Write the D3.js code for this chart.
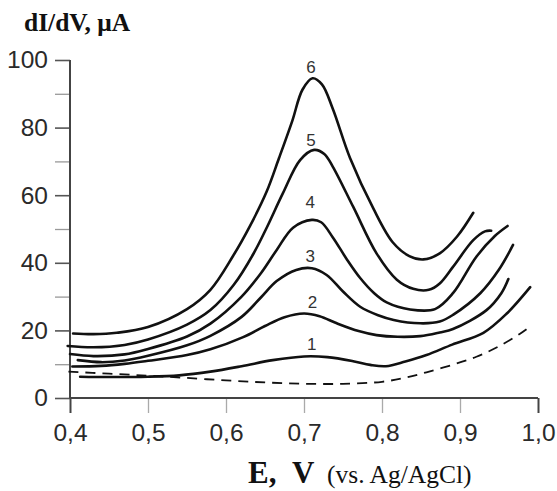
<!DOCTYPE html>
<html><head><meta charset="utf-8">
<script src="https://cdn.jsdelivr.net/npm/d3@7"></script>
<style>body{margin:0;background:#fff}svg{display:block}</style>
</head><body>
<svg id="c" width="557" height="491"></svg>
<script>
// Data: [E (V), dI/dV (µA)]
const curve1 = [[0.413,6.3],[0.45,6.2],[0.5,6.3],[0.54,6.7],[0.58,7.8],[0.62,9.4],[0.66,11.2],[0.7,12.3],[0.73,12.1],[0.763,10.9],[0.785,9.8],[0.805,9.4],[0.83,10.8],[0.857,12.7],[0.89,15.8],[0.93,19.3],[0.96,25],[0.99,32.8]];
const curve2 = [[0.403,9.3],[0.44,9.5],[0.47,10.1],[0.5,11],[0.55,12.7],[0.58,14.4],[0.622,18],[0.65,21.3],[0.675,23.9],[0.7,25],[0.72,24.2],[0.742,22.1],[0.77,19.8],[0.793,18.6],[0.82,18.1],[0.849,18.3],[0.874,19.4],[0.891,20.4],[0.934,26],[0.953,31],[0.962,35.2]];
const curve3 = [[0.41,11.2],[0.44,10.6],[0.47,11.1],[0.5,12.5],[0.55,15.6],[0.58,18.4],[0.62,24],[0.645,29.8],[0.665,34.6],[0.69,37.9],[0.71,38.4],[0.729,36.4],[0.75,31.5],[0.772,27],[0.795,24.5],[0.815,23.1],[0.849,22.1],[0.874,22.6],[0.891,24.6],[0.926,31],[0.95,38],[0.968,45.3]];
const curve4 = [[0.4,13],[0.43,12.4],[0.47,12.9],[0.5,14.5],[0.55,18.2],[0.58,22],[0.62,30],[0.645,37],[0.665,43.8],[0.686,50.4],[0.71,52.7],[0.722,52],[0.737,47.5],[0.755,41],[0.772,35.5],[0.79,31],[0.806,28.3],[0.836,26.2],[0.868,26.3],[0.891,31],[0.921,41.8],[0.945,48],[0.961,50.9]];
const curve5 = [[0.397,15.4],[0.43,15],[0.47,15.7],[0.5,17.3],[0.55,21.7],[0.58,26],[0.61,33.5],[0.635,42.6],[0.652,50.3],[0.673,60.6],[0.695,70.4],[0.713,73.4],[0.726,72.2],[0.737,68.4],[0.763,56.6],[0.793,42.8],[0.819,35],[0.84,32.3],[0.86,32],[0.874,33.9],[0.891,38.8],[0.917,46.7],[0.932,49.3],[0.94,49.5]];
const curve6 = [[0.404,19.1],[0.43,18.9],[0.46,19.3],[0.5,21],[0.55,26.3],[0.58,32],[0.609,42],[0.631,51],[0.652,61],[0.668,71],[0.685,82],[0.698,91.2],[0.711,94.6],[0.723,92.8],[0.737,85.5],[0.759,71],[0.789,56],[0.814,46],[0.835,42],[0.853,41],[0.874,42.8],[0.896,47.7],[0.917,54.8]];
const background = [[0.398,7.8],[0.45,7.2],[0.5,6.6],[0.545,6.0],[0.6,5.2],[0.65,4.6],[0.7,4.2],[0.75,4.2],[0.8,4.8],[0.83,6],[0.857,7.6],[0.89,9.8],[0.921,12.2],[0.95,15.3],[0.977,19],[0.991,21.3]];

const curveNames = ["1","2","3","4","5","6"];
const labelPos = [[0.71,14.3],[0.711,26.5],[0.708,40.3],[0.708,56.1],[0.709,74.6],[0.709,96.1]];

const yTicks = [0,20,40,60,80,100];
const yMinorTicks = [10,30,50,70,90];
const xTicks = [0.4,0.5,0.6,0.7,0.8,0.9,1.0];

const yTitle = "dI/dV, μA";
const xTitleBold1 = "E,";
const xTitleBold2 = "V";
const xTitleRest = "(vs. Ag/AgCl)";

const svg = d3.select("#c");
const x = d3.scaleLinear().domain([0.4,1.0]).range([70,538]);
const y = d3.scaleLinear().domain([0,100]).range([398,60]);

const sans = "'Liberation Sans', Arial, sans-serif";
const serif = "'Liberation Serif', 'Times New Roman', serif";

// Y axis
const yAx = svg.append("g").attr("transform",`translate(${x(0.4)},0)`)
  .call(d3.axisLeft(y).tickValues(yTicks).tickSize(15).tickPadding(7));
yAx.select(".domain").remove();
yAx.selectAll(".tick line").attr("stroke","#555").attr("stroke-width",1.6);
yAx.selectAll(".tick text").attr("font-family",sans).attr("font-size",24.5).attr("fill","#2a2a2a");

const yMin = svg.append("g").attr("transform",`translate(${x(0.4)},0)`)
  .call(d3.axisLeft(y).tickValues(yMinorTicks).tickSize(15).tickFormat(""));
yMin.select(".domain").remove();
yMin.selectAll(".tick line").attr("stroke","#999").attr("stroke-width",1.3);

// X axis
const xAx = svg.append("g").attr("transform",`translate(0,${y(0)})`)
  .call(d3.axisBottom(x).tickValues(xTicks).tickSize(15).tickPadding(11)
    .tickFormat(d => d3.format(".1f")(d).replace(".",",")));
xAx.select(".domain").remove();
xAx.selectAll(".tick line")
  .attr("stroke", d => (d===0.4||d===1.0) ? "#444" : "#aaa")
  .attr("stroke-width", d => (d===0.4||d===1.0) ? 2 : 1.3);
xAx.selectAll(".tick text").attr("font-family",sans).attr("font-size",24.5).attr("fill","#2a2a2a");

// axis lines
svg.append("line").attr("x1",x(0.4)).attr("x2",x(0.4)).attr("y1",y(100)).attr("y2",y(0))
  .attr("stroke","#444").attr("stroke-width",2);
svg.append("line").attr("x1",x(0.4)).attr("x2",x(1.0)).attr("y1",y(0)).attr("y2",y(0))
  .attr("stroke","#444").attr("stroke-width",2);

// curves
const line = d3.line().x(d=>x(d[0])).y(d=>y(d[1])).curve(d3.curveCatmullRom.alpha(0.5));
const curves = [curve1,curve2,curve3,curve4,curve5,curve6];
svg.append("g").selectAll("path").data(curves).join("path")
  .attr("d",line).attr("fill","none").attr("stroke","#111").attr("stroke-width",2.6)
  .attr("stroke-linecap","round").attr("stroke-linejoin","round");
svg.append("path").datum(background).attr("d",line).attr("fill","none")
  .attr("stroke","#111").attr("stroke-width",1.8).attr("stroke-dasharray","10,7");

// curve labels
svg.append("g").selectAll("text").data(curveNames).join("text")
  .attr("x",(d,i)=>x(labelPos[i][0])).attr("y",(d,i)=>y(labelPos[i][1]))
  .attr("text-anchor","middle").attr("font-family",sans).attr("font-size",17).attr("fill","#333")
  .text(d=>d);

// titles
svg.append("text").attr("x",24).attr("y",31).attr("font-family",serif).attr("font-weight","bold")
  .attr("font-size",25.5).attr("fill","#111").text(yTitle);
const xt = svg.append("text").attr("y",483).attr("font-family",serif).attr("fill","#111");
xt.append("tspan").attr("x",248).attr("font-weight","bold").attr("font-size",31).text(xTitleBold1);
xt.append("tspan").attr("x",292).attr("font-weight","bold").attr("font-size",31).text(xTitleBold2);
xt.append("tspan").attr("x",327).attr("font-size",25.5).text(xTitleRest);
</script>
</body></html>
